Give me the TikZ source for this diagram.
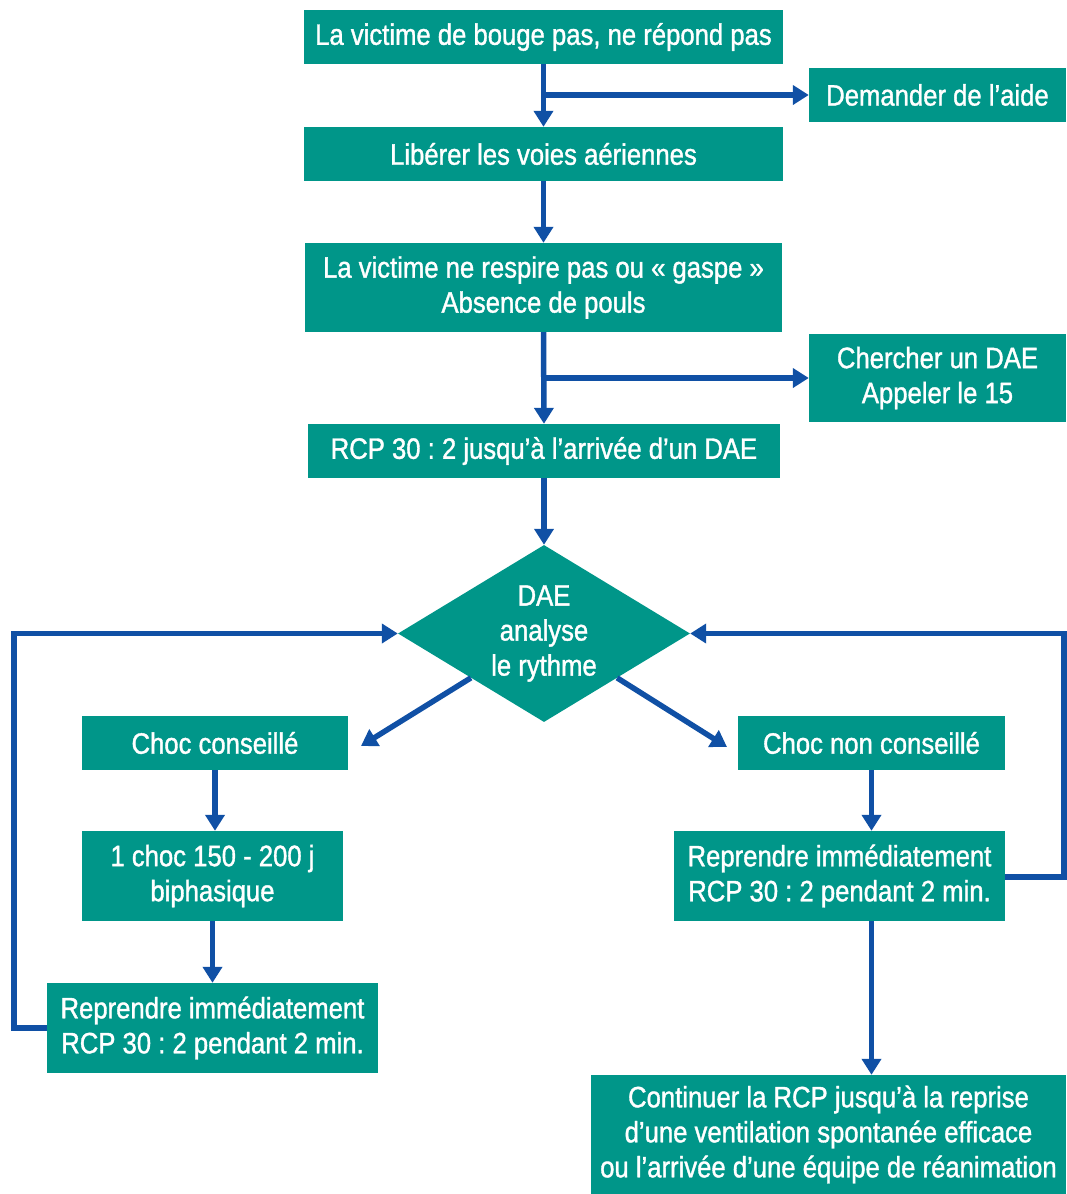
\documentclass[tikz,border=0pt]{standalone}
\usepackage{fontspec}
\setmainfont{Liberation Sans}[FakeStretch=0.87, FakeBold=1.2]
\usetikzlibrary{shapes.geometric,arrows.meta}
\definecolor{boxteal}{RGB}{0,150,137}
\definecolor{arrblue}{RGB}{16,80,165}
\tikzset{
  stepbox/.style={fill=boxteal, text=white, inner sep=0pt, align=center,
    font=\fontsize{29.5}{35}\selectfont},
  conn/.style={draw=arrblue, line width=5.5pt, -{Triangle[width=19pt,length=16pt]}},
}
\begin{document}
\frenchspacing
\begin{tikzpicture}[x=1pt,y=-1pt]
\useasboundingbox (0,0) rectangle (1066,1194);
\node[stepbox, minimum width=479pt, minimum height=54pt] (b1) at (543.5,37) {La victime de bouge pas, ne répond pas};
\node[stepbox, minimum width=257pt, minimum height=54pt] (aide) at (937.5,95) {Demander de l’aide};
\node[stepbox, minimum width=479pt, minimum height=54pt] (b2) at (543.5,154) {Libérer les voies aériennes};
\node[stepbox, minimum width=477pt, minimum height=89pt] (b3) at (543.5,287.5) {La victime ne respire pas ou « gaspe »\\Absence de pouls};
\node[stepbox, minimum width=257pt, minimum height=88pt] (dae) at (937.5,378) {Chercher un DAE\\Appeler le 15};
\node[stepbox, minimum width=472pt, minimum height=54pt] (b4) at (544,451) {RCP 30 : 2 jusqu’à l’arrivée d’un DAE};
\node[stepbox, shape=diamond, aspect=1.65, minimum width=292pt, minimum height=177pt] (an) at (544,633.5) {DAE\\analyse\\le rythme};
\node[stepbox, minimum width=266pt, minimum height=54pt] (cc) at (215,743) {Choc conseillé};
\node[stepbox, minimum width=267pt, minimum height=54pt] (cn) at (871.5,743) {Choc non conseillé};
\node[stepbox, minimum width=261pt, minimum height=90pt] (ch) at (212.5,876) {1 choc 150 - 200 j\\biphasique};
\node[stepbox, minimum width=331pt, minimum height=90pt] (rl) at (212.5,1028) {Reprendre immédiatement\\RCP 30 : 2 pendant 2 min.};
\node[stepbox, minimum width=331pt, minimum height=90pt] (rr) at (839.5,876) {Reprendre immédiatement\\RCP 30 : 2 pendant 2 min.};
\node[stepbox, minimum width=475pt, minimum height=119pt] (cont) at (828.5,1134.5) {Continuer la RCP jusqu’à la reprise\\d’une ventilation spontanée efficace\\ou l’arrivée d’une équipe de réanimation};

\coordinate (j1) at (b1.south |- aide.west);
\coordinate (j2) at (b3.south |- dae.west);
\coordinate (tl) at (361,746);
\coordinate (tr) at (727,747);
\coordinate (ll) at (14,1028);
\coordinate (lu) at (14,633.5);
\coordinate (rrx) at (1064,877);
\coordinate (ru) at (1064,633.5);

\draw[conn] (b1.south) -- (b2.north);
\draw[conn] (j1) -- (aide.west);
\draw[conn] (b2.south) -- (b3.north);
\draw[conn] (b3.south) -- (b4.north);
\draw[conn] (j2) -- (dae.west);
\draw[conn] (b4.south) -- (an.north);
\draw[conn] (an.south west) -- (tl);
\draw[conn] (an.south east) -- (tr);
\draw[conn] (cc.south) -- (cc.south |- ch.north);
\draw[conn] (ch.south) -- (ch.south |- rl.north);
\draw[conn] (cn.south) -- (cn.south |- rr.north);
\draw[conn] (cn.south |- rr.south) -- (cn.south |- cont.north);
\draw[conn] (rl.west) -- (ll) -- (lu) -- (an.west);
\draw[conn] (rr.east |- rrx) -- (rrx) -- (ru) -- (an.east);
\end{tikzpicture}
\end{document}
